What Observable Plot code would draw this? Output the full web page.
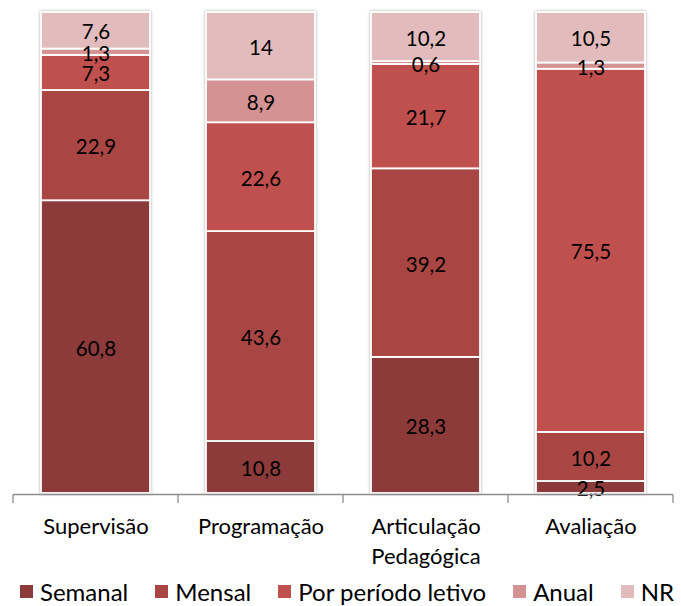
<!DOCTYPE html>
<html>
<head>
<meta charset="utf-8">
<script src="https://cdn.jsdelivr.net/npm/d3@7"></script>
<script src="https://cdn.jsdelivr.net/npm/@observablehq/plot@0.6"></script>
<style>
  body { margin: 0; background: #fff; font-family: Lato, "Open Sans", sans-serif; }
  #legend { display: flex; align-items: center; margin-left: 20px; margin-top: 5px; font-size: 24px; color: #000; white-space: nowrap; }
  #legend .item { display: flex; align-items: center; margin-right: 27px; }
  #legend .sw { width: 13px; height: 13px; margin-right: 7px; }
</style>
</head>
<body>
<div id="chart"></div>
<div id="legend"></div>
<script>
// Categories (x axis) and frequency series, in stacking order from the bottom
const categories = ["Supervisão", "Programação", "Articulação\nPedagógica", "Avaliação"];
const seriesNames = ["Semanal", "Mensal", "Por período letivo", "Anual", "NR"];
const seriesColors = ["#8c3a3a", "#a94644", "#c0504d", "#d49392", "#e2bcbc"];

const semanal = [60.8, 10.8, 28.3, 2.5];
const mensal = [22.9, 43.6, 39.2, 10.2];
const porPeriodoLetivo = [7.3, 22.6, 21.7, 75.5];
const anual = [1.3, 8.9, 0.6, 1.3];
const nr = [7.6, 14, 10.2, 10.5];

const seriesValues = [semanal, mensal, porPeriodoLetivo, anual, nr];

// Long table built from the arrays above
const data = [];
seriesNames.forEach((s, si) => {
  categories.forEach((c, ci) => {
    data.push({category: c, series: s, value: seriesValues[si][ci]});
  });
});

const fmt = v => String(v).replace(".", ",");

// Axis line and category boundary ticks, derived from the band scale
function boundaryTicks(index, scales, values, dimensions) {
  const x = scales.x;
  const step = x.step();
  const bw = x.bandwidth();
  const gap = (step - bw) / 2;
  const y0 = scales.y(0);
  const g = d3.create("svg:g");
  const edges = categories.map(c => x(c) - gap);
  edges.push(x(categories[categories.length - 1]) + bw + gap);
  g.append("line")
    .attr("x1", edges[0]).attr("x2", edges[edges.length - 1])
    .attr("y1", y0 + 1.5).attr("y2", y0 + 1.5)
    .attr("stroke", "#8c8c8c").attr("stroke-width", 1.3);
  for (const e of edges) {
    g.append("line")
      .attr("x1", e).attr("x2", e)
      .attr("y1", y0 + 1.5).attr("y2", y0 + 10)
      .attr("stroke", "#8c8c8c").attr("stroke-width", 1.3);
  }
  return g.node();
}

const stackOpts = {x: "category", y: "value", z: "series", offset: "normalize"};

const plot = Plot.plot({
  width: 681,
  height: 572,
  marginTop: 12,
  marginBottom: 79,
  marginLeft: 12,
  marginRight: 8,
  style: {fontFamily: "Lato, 'Open Sans', sans-serif", background: "#fff"},
  x: {domain: categories, paddingInner: 0.34, paddingOuter: 0.17, label: null},
  y: {domain: [0, 1], axis: null},
  color: {domain: seriesNames, range: seriesColors},
  marks: [
    Plot.barY(data, Plot.stackY({
      ...stackOpts,
      fill: "series",
      stroke: "white",
      strokeWidth: 1.8
    })),
    Plot.text(data, Plot.stackY({
      ...stackOpts,
      text: d => fmt(d.value),
      fill: "#000",
      fontSize: 20.5,
      dy: 2
    })),
    Plot.axisX({
      tickSize: 0,
      tickPadding: 19,
      fontSize: 22,
      lineHeight: 1.36,
      fill: "#000",
      label: null
    }),
    boundaryTicks
  ]
});

// soft shadow around the stacked bars
d3.select(plot).select("g[aria-label='bar']")
  .attr("filter", "drop-shadow(0px 0px 1.5px rgba(0,0,0,0.35))");

document.getElementById("chart").append(plot);

// Legend below the chart
const legend = d3.select("#legend");
seriesNames.forEach((s, i) => {
  const item = legend.append("div").attr("class", "item");
  item.append("div").attr("class", "sw").style("background", seriesColors[i]);
  item.append("span").text(s);
});
</script>
</body>
</html>
